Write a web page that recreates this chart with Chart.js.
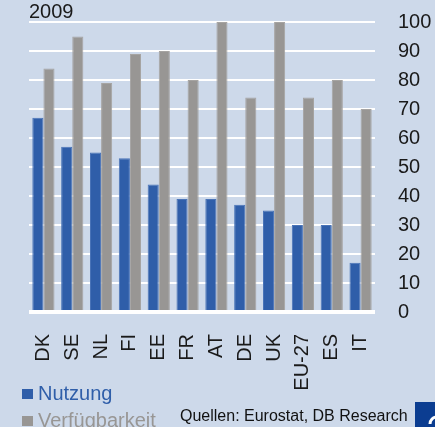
<!DOCTYPE html>
<html>
<head>
<meta charset="utf-8">
<script src="https://cdn.jsdelivr.net/npm/chart.js@4/dist/chart.umd.min.js"></script>
<style>
html,body{margin:0;padding:0;background:#cdd9ea;}
#cadre{width:435px;height:427px;position:relative;overflow:hidden}
</style>
</head>
<body>
<div id="cadre"><canvas id="monGraphe" width="435" height="427"></canvas></div>
<script>
// donnees (2009, en %)
var pays = ["DK","SE","NL","FI","EE","FR","AT","DE","UK","EU-27","ES","IT"];
var nutzung = [67,57,55,53,44,39,39,37,35,30,30,17];
var verfuegbarkeit = [84,95,79,89,90,80,100,74,100,74,80,70];
var yMin = 0, yMax = 100, yPas = 10;
var titre = "2009";
var source = "Quellen: Eurostat, DB Research";

var fond = "#cdd9ea";
var bleu = "#2f5ea9";
var gris = "#989694";
var police = "'Liberation Sans', Arial, sans-serif";

// fond, titre, legende et source dessines a la main
var decor = {
  id: "decor",
  beforeDraw: function(chart){
    var c = chart.ctx;
    c.save();
    c.fillStyle = fond;
    c.fillRect(0, 0, chart.width, chart.height);
    c.restore();
  },
  afterDraw: function(chart){
    var c = chart.ctx;
    c.save();
    c.textBaseline = "alphabetic";
    c.fillStyle = "#1a1a1a";
    c.font = "20px " + police;
    c.fillText(titre, 29, 18);

    var ds = chart.data.datasets;
    var yy = [400, 427];
    for (var i = 0; i < ds.length; i++) {
      c.fillStyle = ds[i].backgroundColor;
      c.fillRect(22, yy[i] - 11, 11, 10);
      c.font = "20px " + police;
      c.fillText(ds[i].label, 38, yy[i]);
    }

    c.fillStyle = "#111";
    c.font = "16px " + police;
    c.fillText(source, 180, 421);

    // coin du logo
    c.fillStyle = "#0b3d91";
    c.fillRect(415, 402, 20, 25);
    c.strokeStyle = "#fff";
    c.lineWidth = 3;
    c.beginPath();
    c.arc(437, 424, 7, Math.PI, 1.5 * Math.PI);
    c.stroke();
    c.restore();
  }
};

var ctx = document.getElementById("monGraphe");
var chart = new Chart(ctx, {
  type: "bar",
  data: {
    labels: pays,
    datasets: [{
      label: "Nutzung",
      data: nutzung,
      backgroundColor: bleu,
      borderColor: "#4a74b8",
      borderWidth: 1,
      categoryPercentage: 0.77,
      barPercentage: 1
    }, {
      label: "Verfügbarkeit",
      data: verfuegbarkeit,
      backgroundColor: gris,
      borderColor: "#a6a4a2",
      borderWidth: 1,
      categoryPercentage: 0.77,
      barPercentage: 1
    }]
  },
  options: {
    responsive: false,
    animation: false,
    devicePixelRatio: 1,
    layout: {padding: {top: 22, left: 29, right: 0, bottom: 0}},
    plugins: {legend: {display: false}, tooltip: {enabled: false}, title: {display: false}},
    scales: {
      x: {
        grid: {display: false, drawTicks: false},
        border: {display: false},
        ticks: {
          color: "#1a1a1a",
          font: {family: police, size: 20},
          minRotation: 90, maxRotation: 90,
          padding: 22,
          autoSkip: false
        },
        afterFit: function(s){ s.height = 115; }
      },
      y: {
        position: "right",
        min: yMin, max: yMax,
        grid: {
          color: "#ffffff",
          lineWidth: function(c){ return c.tick && c.tick.value === 0 ? 4 : 2; },
          drawTicks: true,
          tickLength: 15,
          tickColor: "rgba(0,0,0,0)"
        },
        border: {display: false},
        ticks: {
          stepSize: yPas,
          color: "#1a1a1a",
          font: {family: police, size: 20},
          padding: 8
        },
        afterFit: function(s){ s.width = 60; }
      }
    }
  },
  plugins: [decor]
});
</script>
</body>
</html>
